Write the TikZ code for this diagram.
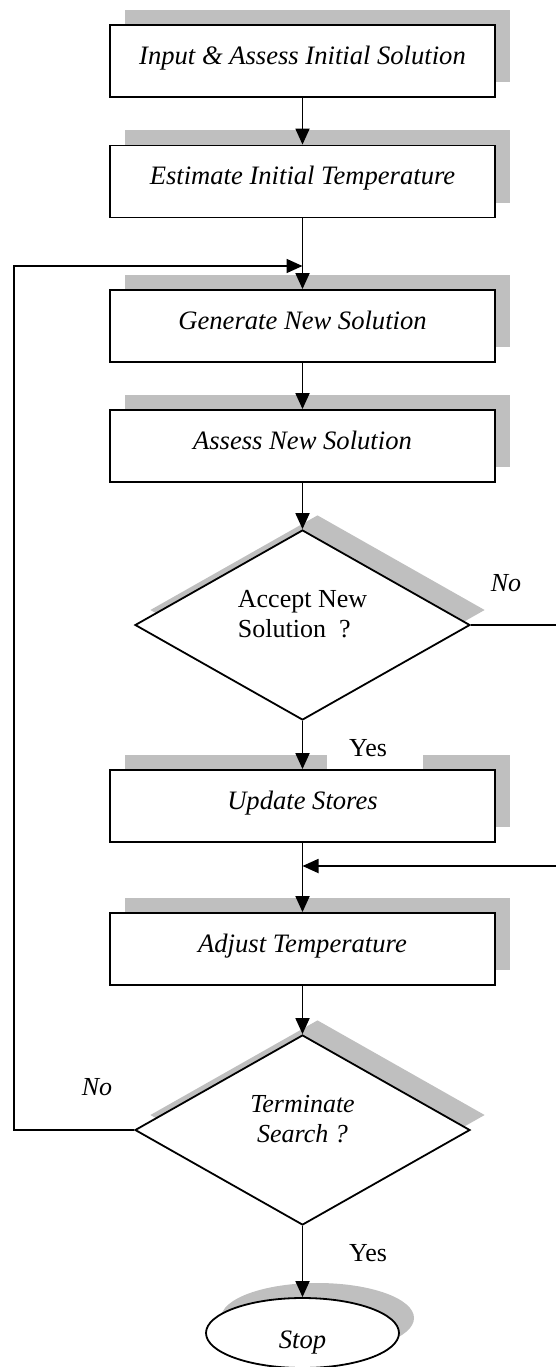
\documentclass[tikz,border=0pt]{standalone}
\usepackage{fontspec}
\setmainfont{Liberation Serif}
\usetikzlibrary{shapes.geometric,shadows,arrows.meta}
\begin{document}
\begin{tikzpicture}[x=1pt,y=-1pt,
  shad/.style={drop shadow={shadow xshift=15pt,shadow yshift=15pt,fill=gray!50,opacity=1}},
  procbox/.style={draw,line width=1.8pt,fill=white,shad,minimum width=385pt,minimum height=72pt,inner sep=0pt,font=\fontsize{26.6}{30}\selectfont\itshape,text height=20pt,text depth=13pt},
  decision/.style={draw,line width=1.8pt,fill=white,shad,diamond,aspect=1.76,minimum width=335pt,minimum height=190pt,inner sep=0pt,font=\fontsize{26}{29.5}\selectfont,text height=34pt,text depth=10pt},
  terminal/.style={draw,line width=1.8pt,fill=white,shad,ellipse,minimum width=193pt,minimum height=70pt,inner sep=0pt,font=\fontsize{26.6}{30}\selectfont\itshape,text height=36pt,text depth=6pt},
  flow/.style={line width=1.8pt,-{Triangle[length=16pt,width=14pt]}},
  plain/.style={line width=1.8pt},
  lbl/.style={font=\fontsize{26}{30}\selectfont,inner sep=0pt}
]
\useasboundingbox (0,0) rectangle (555,1367);

\node[procbox] (inp) at (302.5,61) {Input \& Assess Initial Solution};
\node[procbox] (est) at (302.5,181.5) {Estimate Initial Temperature};
\node[procbox] (gen) at (302.5,326) {Generate New Solution};
\node[procbox] (ass) at (302.5,446) {Assess New Solution};
\node[decision,align=left] (acc) at (302.5,625) {Accept New\\Solution~ ?};
\node[procbox] (upd) at (302.5,806) {Update Stores};
\node[procbox] (adj) at (302.5,949) {Adjust Temperature};
\node[decision,align=center,font=\fontsize{26}{30}\selectfont\itshape] (ter) at (302.5,1130) {Terminate\\Search ?};
\node[terminal] (stop) at (302.5,1333) {Stop};

% white patch behind the first Yes label
\fill[white] (327,726) rectangle (423,768.5);
\node[lbl] (yes1) at (368,748) {Yes};
\node[lbl] (yes2) at (368,1253) {Yes};
\node[lbl,font=\fontsize{26}{30}\selectfont\itshape] (no1) at (506,583) {No};
\node[lbl,font=\fontsize{26}{30}\selectfont\itshape] (no2) at (97,1087) {No};

\coordinate (m1) at (302.5,266);
\coordinate (m2) at (302.5,866);
\coordinate (rA) at (556,625);
\coordinate (rB) at (556,866);
\coordinate (lx) at (14,1130);

\draw[flow] (inp) -- (est);
\draw[flow] (est) -- (gen);
\draw[flow] (gen) -- (ass);
\draw[flow] (ass) -- (acc);
\draw[flow] (acc) -- (upd);
\draw[flow] (upd) -- (adj);
\draw[flow] (adj) -- (ter);
\draw[flow] (ter) -- (stop);
\draw[plain] (acc.east) -- (rA);
\draw[flow] (rB) -- (m2);
\draw[flow] (ter.west) -- (lx) |- (m1);
\end{tikzpicture}
\end{document}
